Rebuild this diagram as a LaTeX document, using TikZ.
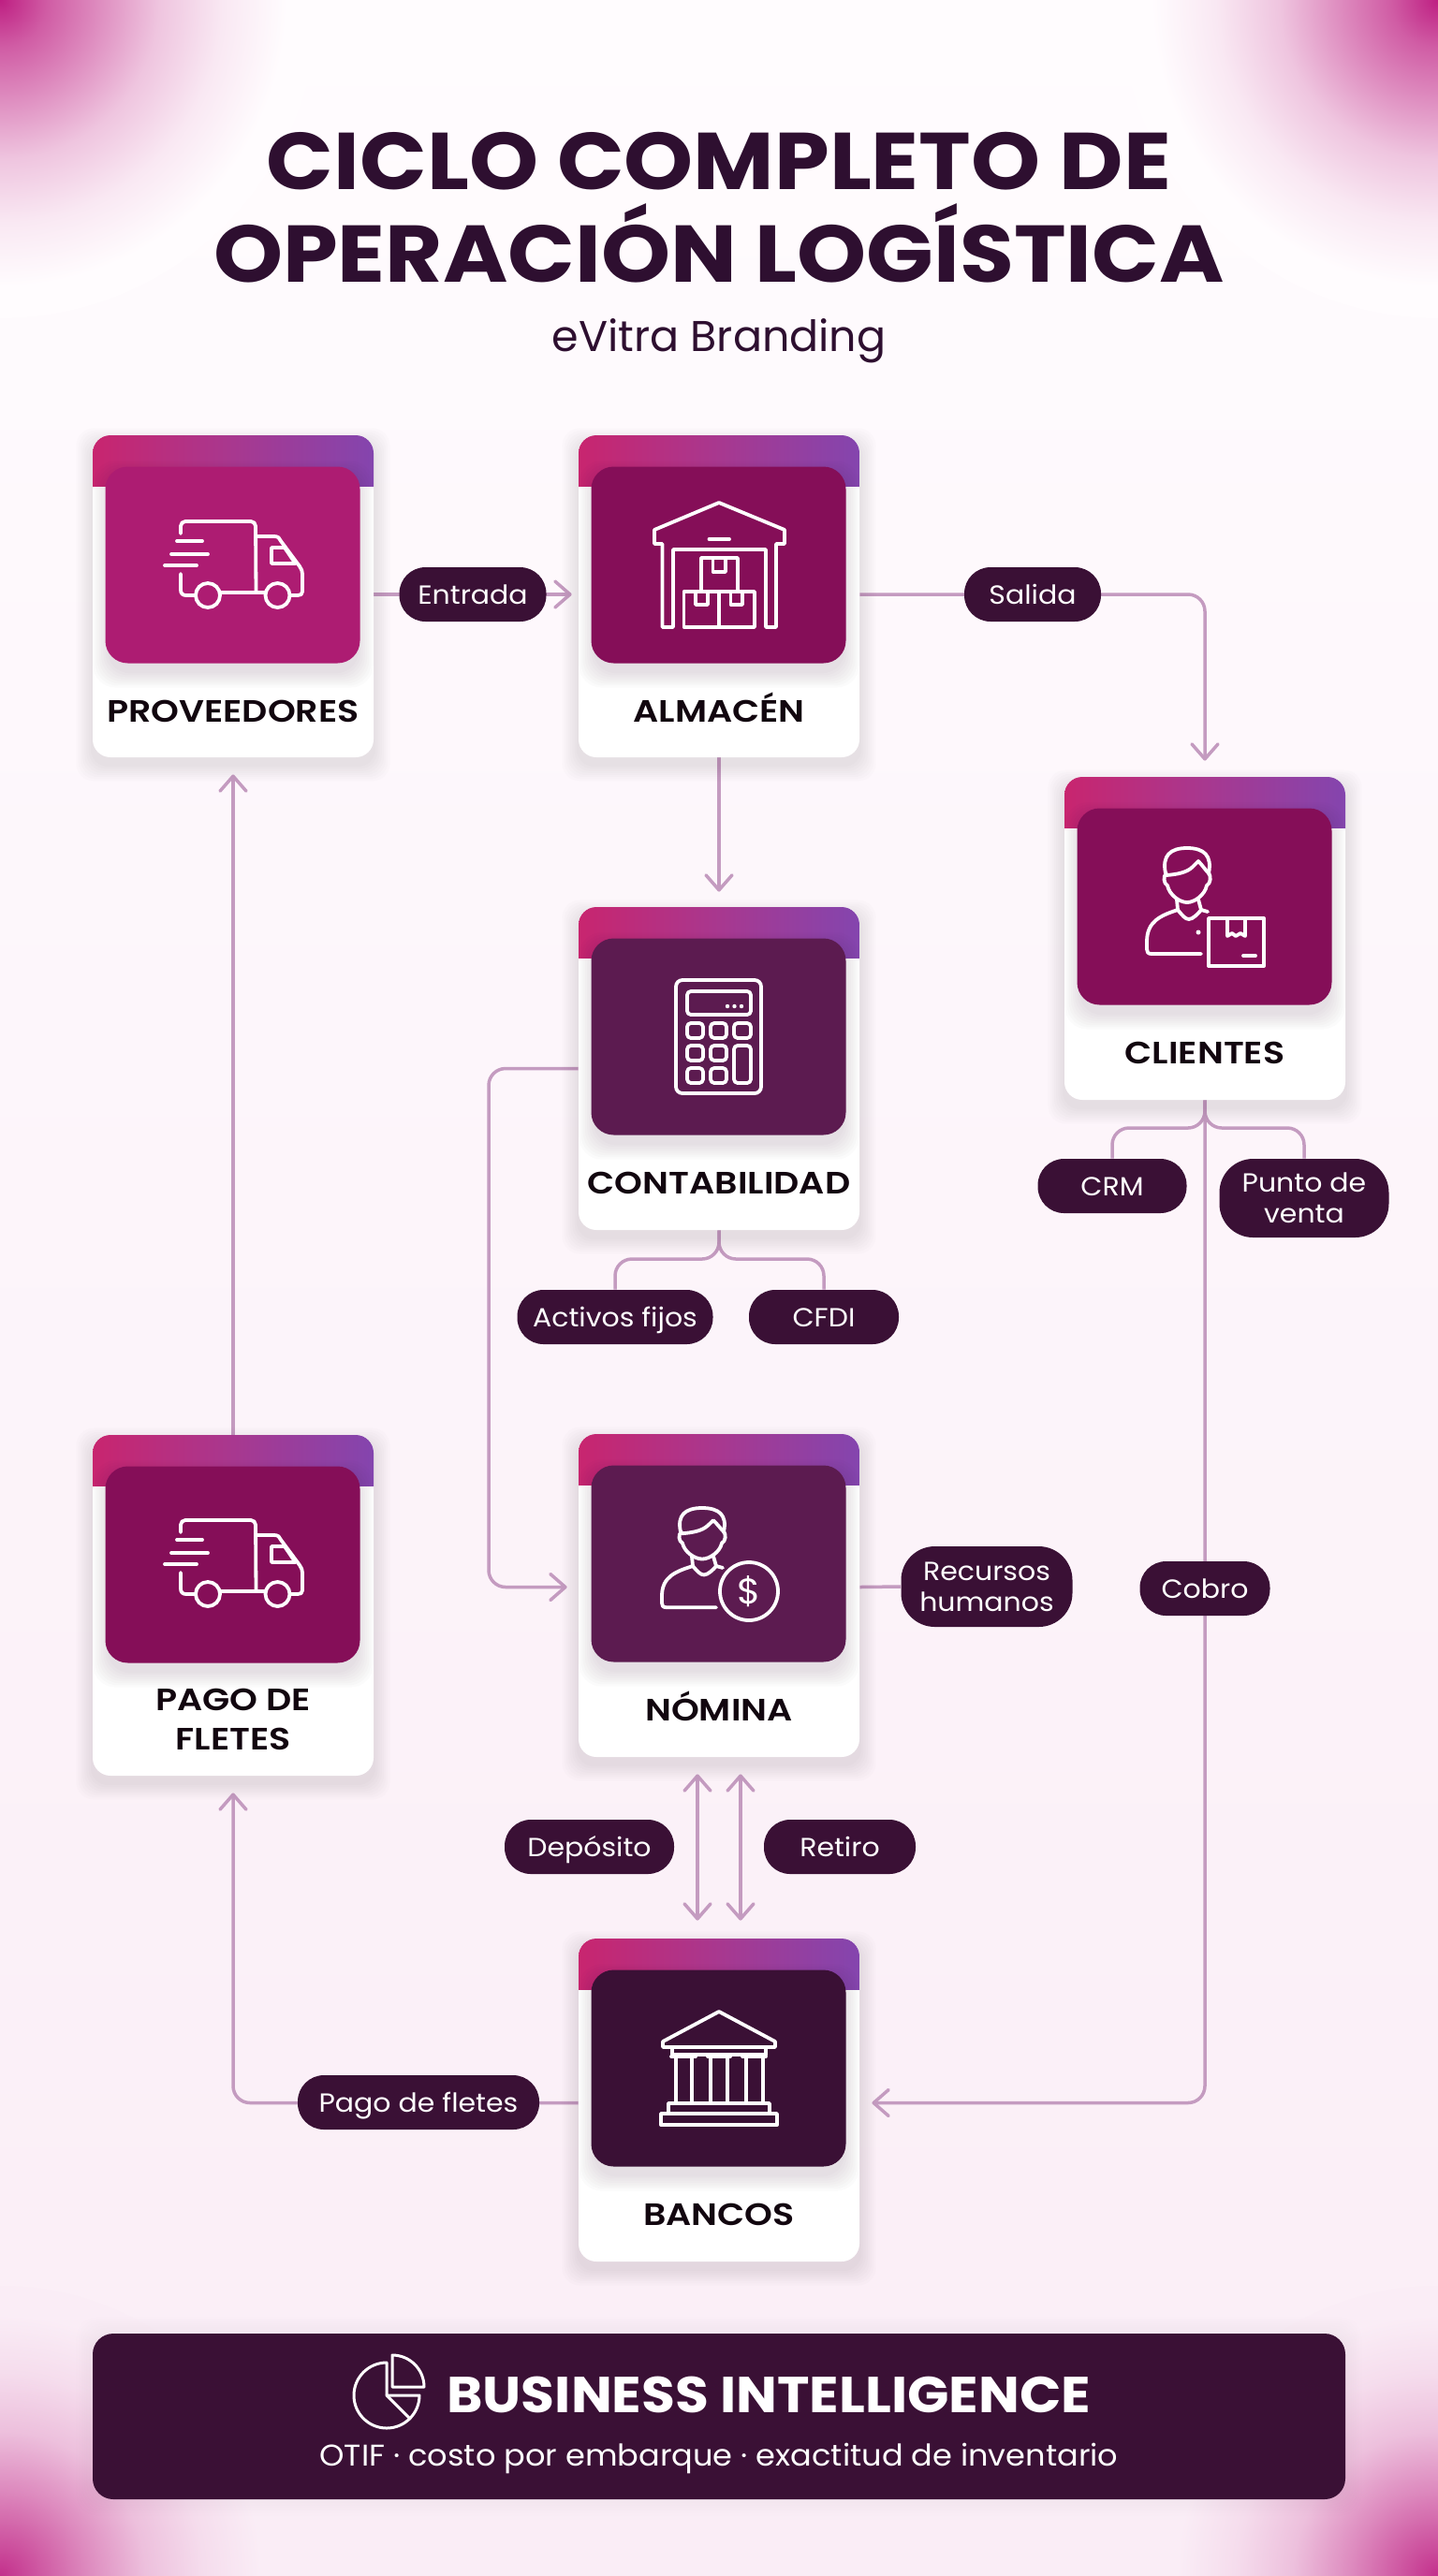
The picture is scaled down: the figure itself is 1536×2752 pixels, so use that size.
\documentclass[tikz,border=0pt]{standalone}
\usepackage{fontspec}
\usetikzlibrary{arrows.meta,calc}
\setmainfont{Poppins}
\newfontfamily\titlef{Poppins Bold}[FakeStretch=1.095]
\newfontfamily\labelf{Poppins SemiBold}[FakeStretch=1.15]
\newfontfamily\headf{Poppins Bold}[FakeStretch=1.08]
\newfontfamily\medf{Poppins}[FakeStretch=1.07]
\newfontfamily\bodyf{Poppins}[FakeStretch=1.05]
\definecolor{ink}{HTML}{2E0F30}
\definecolor{dark}{HTML}{3A1035}
\definecolor{stA}{HTML}{C8256F}
\definecolor{stB}{HTML}{A8388F}
\definecolor{stC}{HTML}{8445AE}
\definecolor{conn}{HTML}{C49BC0}
\definecolor{magA}{HTML}{AD1C72}
\definecolor{magB}{HTML}{850E58}
\definecolor{magC}{HTML}{5C1B50}
\definecolor{magD}{HTML}{3A1035}
\definecolor{bgtop}{HTML}{FFFCFE}
\definecolor{bgbot}{HTML}{FAEDF6}
\definecolor{corner}{HTML}{BE1F82}
\definecolor{cardtext}{HTML}{12060F}
\pgfdeclarelayer{bglayer}\pgfdeclarelayer{connlayer}
\pgfsetlayers{bglayer,connlayer,main}
% a shaded path's half size falls at 25bp of the shading
\pgfdeclareradialshading{cornertop}{\pgfpointorigin}{%
  color(0bp)=(corner);
  color(3.75bp)=(corner!72!bgtop);
  color(7.5bp)=(corner!52!bgtop);
  color(12.5bp)=(corner!25!bgtop);
  color(17.5bp)=(corner!9!bgtop);
  color(22.5bp)=(bgtop);
  color(50bp)=(bgtop)}
\pgfdeclareradialshading{cornerbot}{\pgfpointorigin}{%
  color(0bp)=(corner!92!bgbot);
  color(3.75bp)=(corner!70!bgbot);
  color(7.5bp)=(corner!48!bgbot);
  color(12.5bp)=(corner!22!bgbot);
  color(17.5bp)=(corner!8!bgbot);
  color(22.5bp)=(bgbot);
  color(50bp)=(bgbot)}
\tikzset{
  x=0.5pt,y=-0.5pt,
  cardbox/.style={fill=white,rounded corners=9.5pt,minimum width=150pt,inner sep=0pt,draw=none},
  iconbox/.style={rounded corners=12pt,minimum width=136pt,minimum height=105pt,inner sep=0pt},
  cardlabel/.style={font=\labelf\fontsize{16.5}{21}\selectfont,text=cardtext,align=center,inner sep=0pt,anchor=south},
  pill/.style={fill=dark,text=white,inner sep=0pt,align=center,font=\medf\fontsize{14}{16.5}\selectfont,minimum height=29pt,rounded corners=14pt},
  pillone/.style={pill,text height=10pt,text depth=0pt},
  pilltall/.style={pill,rounded corners=18pt},
  link/.style={draw=conn,line width=1.75pt,rounded corners=9pt},
  barbtip/.tip={Straight Barb[length=8pt,width=14pt,line width=1.75pt,round]},
  arrowlink/.style={link,-barbtip},
  twolink/.style={link,barbtip-barbtip},
  icon/.style={draw=white,line width=1.9pt,line cap=round,line join=round,fill=none},
}
\newcommand{\softshadow}[6]{%
  \foreach \sh in {1,...,8}{
    \fill[dark,opacity=#6,rounded corners=#5]
      ($(#1,#2)+(-\sh*2.2,-\sh*2.2)$) rectangle ($(#3,#4)+(\sh*2.2,\sh*2.2)$);
  }
}
% name, cx, top, height, inner colour, label, label baseline
\newcommand{\stepcard}[7]{%
  \softshadow{#2-150}{#3+10}{#2+150}{#3+#4+8}{9.5pt}{0.012}
  \node[cardbox,minimum height=#4*0.5pt] (#1) at (#2,#3+#4/2) {};
  \begin{scope}
    \clip[rounded corners=9.5pt] (#2-150,#3) rectangle (#2+150,#3+#4);
    \shade[left color=stA,right color=stC,middle color=stB] (#2-150,#3) rectangle (#2+150,#3+54);
  \end{scope}
  \softshadow{#2-132}{#3+45}{#2+132}{#3+246+6}{12pt}{0.016}
  \node[iconbox,fill=#5] (#1-icon) at (#2-0.5,#3+138.5) {};
  \node[cardlabel] (#1-label) at (#2,#7) {#6};
}
\newcommand{\truckicon}{%
  \draw[icon] (193,570) -- (193,562) arc[start angle=180,end angle=270,radius=5] -- (268,557) arc[start angle=-90,end angle=0,radius=5] -- (273.5,633);
  \draw[icon] (273.5,573) -- (293,573) .. controls (297,573) and (299,575) .. (300,578) -- (320,605) .. controls (322,608) and (323,610) .. (323,613) -- (323,632) .. controls (323,635) and (321,636) .. (318,636) -- (310,636);
  \draw[icon] (290,585) -- (304,585) -- (315.5,602) -- (290,602) -- cycle;
  \draw[icon] (189,578) -- (216,578);
  \draw[icon] (183,592) -- (222,592);
  \draw[icon] (176,604) -- (210,604);
  \draw[icon] (193,613) -- (193,630) .. controls (193,634) and (195,636) .. (199,636) -- (209,636);
  \draw[icon] (235.5,633) -- (283,633);
  \draw[icon] (222,636) circle[radius=13];
  \draw[icon] (296.5,636) circle[radius=13];
}
\newcommand{\personicon}{%
  \draw[icon] (-23,27) .. controls (-27,8) and (-18,0) .. (0,0) .. controls (18,0) and (27,8) .. (23,27);
  \draw[icon] (-22,29) .. controls (-10,28) and (0,26) .. (6,20) -- (12,14) .. controls (16,18) and (20,24) .. (24,28);
  \draw[icon] (-22,27) .. controls (-26,30) and (-25,38) .. (-21,40) .. controls (-19,50) and (-8,58) .. (0,58) .. controls (8,58) and (19,50) .. (21,40) .. controls (25,38) and (26,30) .. (23,27);
  \draw[icon] (-11,55) -- (-10,66) .. controls (-5,72) and (-2,76) .. (2,76) .. controls (6,76) and (12,70) .. (15,66) -- (12,55);
  \draw[icon] (-10,66) .. controls (-28,72) and (-43,78) .. (-43,100) -- (-43,108) .. controls (-43,111) and (-42,113) .. (-38,113) -- (15,113);
  \draw[icon] (15,66) -- (22,68);
}
\begin{document}
\begin{tikzpicture}
\useasboundingbox (0,0) rectangle (1536,2752);
\begin{pgfonlayer}{bglayer}
  \shade[top color=bgtop,bottom color=bgbot] (0,0) rectangle (1536,2752);
  \begin{scope}
    \clip (0,0) rectangle (1536,2752);
    \shade[shading=cornertop] (0,0) circle[radius=340];
    \shade[shading=cornertop] (1536,0) circle[radius=340];
    \shade[shading=cornerbot] (0,2752) circle[radius=310];
    \shade[shading=cornerbot] (1536,2752) circle[radius=310];
  \end{scope}
\end{pgfonlayer}

\node[font=\titlef\fontsize{43}{46}\selectfont,text=ink,anchor=base] (title1) at (768,202) {CICLO COMPLETO DE};
\node[font=\titlef\fontsize{43}{46}\selectfont,text=ink,anchor=base] (title2) at (768,301.5) {OPERACIÓN LOGÍSTICA};
\node[font=\fontsize{23}{26}\selectfont,text=ink,anchor=base] (subtitle) at (768,375) {eVitra Branding};

\stepcard{prov}{249}{465}{344}{magA}{PROVEEDORES}{772}
\stepcard{alm}{768}{465}{344}{magB}{ALMACÉN}{772}
\stepcard{cli}{1287}{830}{345}{magB}{CLIENTES}{1137}
\stepcard{cont}{768}{969}{345}{magC}{CONTABILIDAD}{1276}
\stepcard{pago}{249}{1533}{364}{magB}{PAGO DE\\FLETES}{1870}
\stepcard{nom}{768}{1532}{345}{magC}{NÓMINA}{1839}
\stepcard{ban}{768}{2071}{345}{magD}{BANCOS}{2378}

% icons
\truckicon
\begin{scope}[shift={(0,1067)}]\truckicon\end{scope}
% warehouse
\draw[icon] (707.5,581) -- (699,581) -- (699,566) -- (768,537) -- (838,566) -- (838,581) -- (829,581) -- (829,670) -- (818,670) -- (818,587) -- (719,587) -- (719,670) -- (707.5,670) -- cycle;
\draw[icon] (757.5,576) -- (779,576);
\draw[icon] (749,632) -- (749,596) -- (788,596) -- (788,632);
\draw[icon] (761.5,596) -- (761.5,611) -- (775,611) -- (775,596);
\draw[icon] (730.5,632) rectangle (806,670);
\draw[icon] (768,632) -- (768,670);
\draw[icon] (743,632) -- (743,646) -- (756,646) -- (756,632);
\draw[icon] (780.5,632) -- (780.5,646) -- (793,646) -- (793,632);
% calculator
\draw[icon,rounded corners=3.5pt] (722,1047) rectangle (813,1168);
\draw[icon,rounded corners=2pt] (734,1059) rectangle (802,1084);
\fill[white] (777,1075) circle[radius=2.2] (784.5,1075) circle[radius=2.2] (792,1075) circle[radius=2.2];
\foreach \yy/\xa/\xb in {1093/734/751,1093/759/776,1093/784/802,1117/734/751,1117/759/776,1141/734/751,1141/759/776}{
  \draw[icon,rounded corners=2pt] (\xa,\yy) rectangle (\xb,\yy+16);}
\draw[icon,rounded corners=2pt] (784,1117) rectangle (802,1157);
% client
\begin{scope}[shift={(1268,906)}]\personicon\end{scope}
\fill[white] (1280,996) circle[radius=2.5];
\draw[icon] (1291,981) rectangle (1350,1032);
\draw[icon] (1311,981) -- (1311,1000) -- (1316,997) -- (1320,1000) -- (1325,997) -- (1330,1000) -- (1330,981);
\draw[icon] (1328,1021) -- (1341,1021);
% payroll
\begin{scope}[shift={(750,1611)},yscale=0.94]\personicon\end{scope}
\draw[icon] (800,1700) circle[radius=31];
\node[font=\medf\fontsize{19}{20}\selectfont,text=white] (dollar) at (800,1700) {\$};
% bank
\draw[icon] (768,2149) -- (828,2181) -- (828,2187) -- (708,2187) -- (708,2181) -- cycle;
\draw[icon] (718,2187) -- (718,2195) -- (818,2195) -- (818,2187);
\foreach \xa/\xb/\ca/\cb in {722/739/717/743,759/777/756/780,797/815/793/818}{
  \draw[icon] (\ca,2197) -- (\cb,2197);
  \draw[icon] (\xa,2197) -- (\xa,2247);
  \draw[icon] (\xb,2197) -- (\xb,2247);}
\draw[icon] (714,2257) -- (714,2247) -- (822,2247) -- (822,2257);
\draw[icon] (706,2258) rectangle (830,2270);

% pills
\node[pillone,minimum width=78.5pt] (pentrada) at (505,635) {Entrada};
\node[pillone,minimum width=73pt] (psalida) at (1103,635) {Salida};
\node[pillone,minimum width=79.5pt] (pcrm) at (1188,1267) {CRM};
\node[pilltall,minimum width=90.5pt,minimum height=42pt] (ppunto) at (1393,1280) {Punto de\\venta};
\node[pillone,minimum width=104.5pt] (pactivos) at (657,1407) {Activos fijos};
\node[pillone,minimum width=80pt] (pcfdi) at (880,1407) {CFDI};
\node[pilltall,minimum width=91.5pt,minimum height=43pt] (prh) at (1054,1695) {Recursos\\humanos};
\node[pillone,minimum width=69.5pt] (pcobro) at (1287,1697) {Cobro};
\node[pillone,minimum width=90.5pt] (pdep) at (629.5,1973) {Depósito};
\node[pillone,minimum width=81pt] (pret) at (897,1973) {Retiro};
\node[pillone,minimum width=129pt] (pfletes) at (447,2246) {Pago de fletes};

% footer
\softshadow{99}{2493}{1437}{2670}{11pt}{0.005}
\node[fill=dark,rounded corners=11pt,minimum width=669pt,minimum height=88.5pt,inner sep=0pt] (footer) at (768,2581.5) {};
\draw[icon,line width=1.5pt] (413,2524) arc[start angle=-90,end angle=-360,radius=35] -- (413,2559) -- cycle;
\draw[icon,line width=1.5pt] (413,2559) -- (438,2584);
\draw[icon,line width=1.5pt] (419,2550) -- (419,2516) arc[start angle=-90,end angle=0,radius=34] -- cycle;
\node[font=\headf\fontsize{27}{30}\selectfont,text=white,anchor=base west,inner sep=0pt] (fhead) at (477,2577) {BUSINESS INTELLIGENCE};
\node[font=\bodyf\fontsize{16}{18}\selectfont,text=white,anchor=base] (fsub) at (768,2634) {OTIF · costo por embarque · exactitud de inventario};

% connectors
\begin{pgfonlayer}{connlayer}
\coordinate (nomin) at ($(nom.west)+(0,-9)$);
\coordinate (nomout) at ($(nom.east)+(0,-9)$);
\coordinate (contbranch) at (768,1345);
\coordinate (clibranch) at (1287,1205);
\coordinate (contleft) at (522,1400);
\draw[arrowlink,shorten >=3.5pt] ([yshift=1pt]prov.east) -- ([yshift=1pt]alm.west);
\draw[arrowlink,shorten >=8.5pt] ([yshift=1pt]alm.east) -| (cli.north);
\draw[arrowlink,shorten >=8pt] (alm.south) -- (cont.north);
\draw[arrowlink,shorten >=6pt] (cont.west) -| (contleft) |- (nomin);
\draw[link] (cont.south) |- (contbranch -| pactivos.north) -- (pactivos.north);
\draw[link] (cont.south) |- (contbranch -| pcfdi.north) -- (pcfdi.north);
\draw[link] (nomout) -- (prh.west);
\draw[twolink,shorten <=9pt,shorten >=9.5pt] ([xshift=-11.5pt]nom.south) -- ([xshift=-11.5pt]ban.north);
\draw[twolink,shorten <=9pt,shorten >=9.5pt] ([xshift=11.5pt]nom.south) -- ([xshift=11.5pt]ban.north);
\draw[arrowlink,shorten >=6.5pt] (cli.south) |- ([yshift=-1.5pt]ban.east);
\draw[link] (cli.south) |- (clibranch -| pcrm.north) -- (pcrm.north);
\draw[link] (cli.south) |- (clibranch -| ppunto.north) -- (ppunto.north);
\draw[arrowlink,shorten >=9pt] ([yshift=-1.5pt]ban.west) -| (pago.south);
\draw[arrowlink,shorten >=9pt] (pago.north) -- (prov.south);
\end{pgfonlayer}
\end{tikzpicture}
\end{document}
